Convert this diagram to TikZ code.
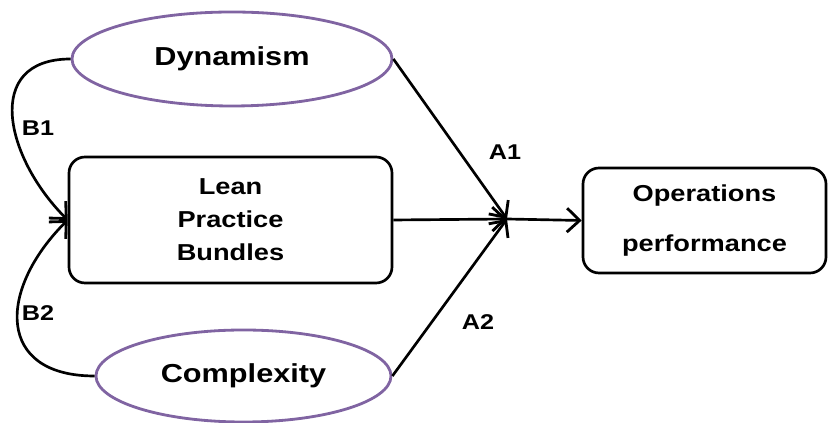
\documentclass[tikz,border=0pt]{standalone}
\usepackage{fontspec}
\setmainfont{Liberation Sans}[FakeStretch=1.18]
\usetikzlibrary{shapes.geometric,arrows.meta}
\definecolor{ovalpurple}{HTML}{8064A2}

\begin{document}
\begin{tikzpicture}[
  factor/.style={ellipse, draw=ovalpurple, line width=2pt, inner sep=0pt,
    font=\fontsize{18.5}{22}\selectfont\bfseries},
  block/.style={draw, rounded corners=0.4cm, line width=1.9pt, align=center, inner sep=0pt},
  link/.style={line width=1.9pt, -{Straight Barb[length=9pt,width=17pt,line width=2pt]}},
  tag/.style={font=\fontsize{15.2}{18}\selectfont\bfseries}
]
  \useasboundingbox (0,0) rectangle (20.725,10.575);

  % the three factors on the left
  \node[factor, minimum width=8cm, minimum height=2.35cm] (dyn) at (5.8,9.1) {Dynamism};
  \node[block, minimum width=8.075cm, minimum height=3.15cm,
    font=\fontsize{16.4}{23.4}\selectfont\bfseries] (lean) at (5.7625,5.075) {Lean\\Practice\\Bundles};
  \node[factor, minimum width=7.375cm, minimum height=2.3cm] (cpx) at (6.0875,1.175) {Complexity};

  % outcome
  \node[block, minimum width=6.075cm, minimum height=2.625cm,
    font=\fontsize{16.4}{35.5}\selectfont\bfseries] (ops) at (17.6125,5.0625) {Operations\\performance};

  \coordinate (jn) at (12.675,5.1);

  \draw[link] (dyn.east) -- (jn);
  \draw[link] (lean.east) -- (jn);
  \draw[link] (cpx.east) -- (jn);
  \draw[link] (jn) -- (ops.west);

  \draw[link] (dyn.west) to[out=180,in=135,looseness=1.4] (lean.west);
  \draw[link] (cpx.west) to[out=180,in=225,looseness=1.6] (lean.west);

  \node[tag] (b1) at (0.95,7.375) {B1};
  \node[tag] (b2) at (0.95,2.75) {B2};
  \node[tag] (a1) at (12.625,6.775) {A1};
  \node[tag] (a2) at (11.95,2.525) {A2};
\end{tikzpicture}
\end{document}
